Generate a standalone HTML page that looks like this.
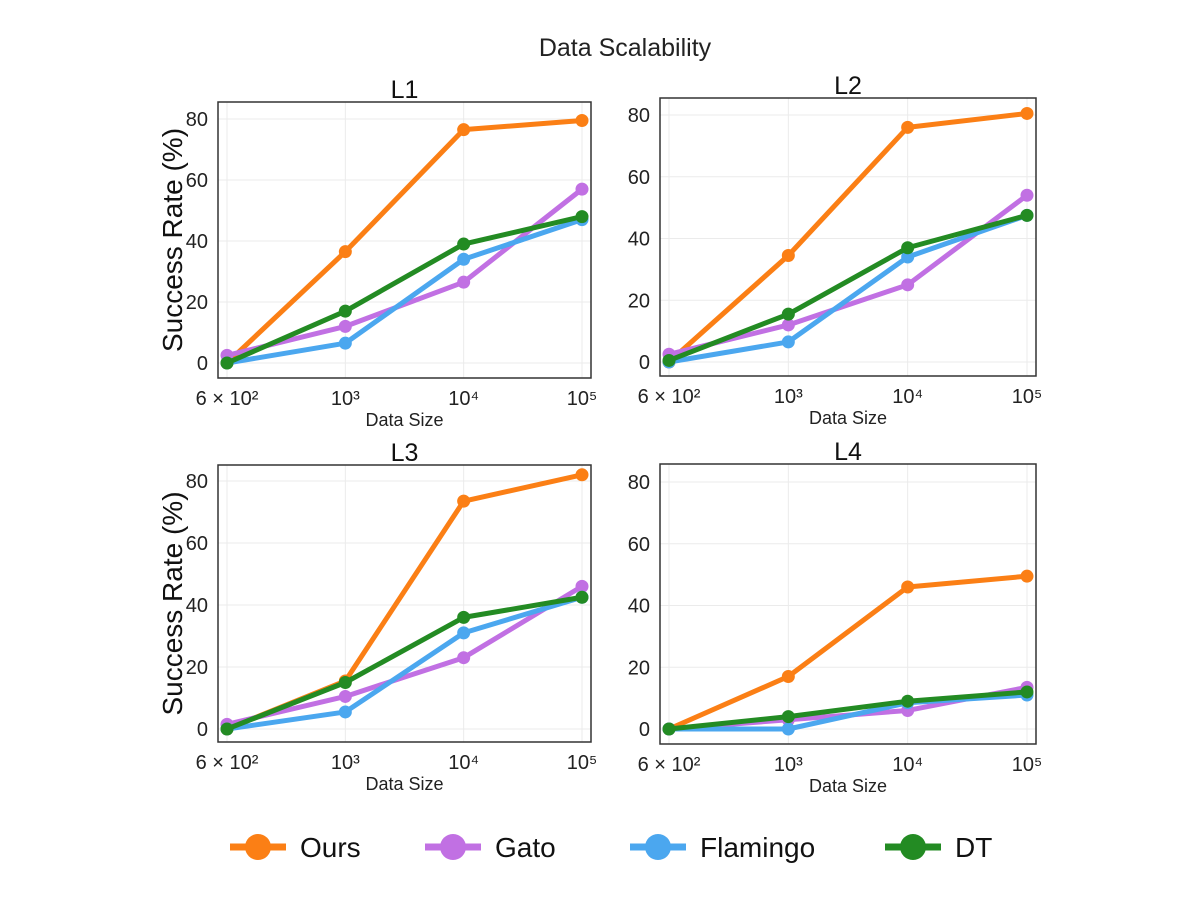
<!DOCTYPE html>
<html><head><meta charset="utf-8"><style>
body{margin:0;background:#fff}
svg{display:block;font-family:"Liberation Sans","DejaVu Sans",sans-serif}
</style></head><body>
<svg id="chart" width="1200" height="898" xmlns="http://www.w3.org/2000/svg">
<text x="625" y="56" text-anchor="middle" font-size="25" fill="#222">Data Scalability</text>
<g id="panels"></g>
<g id="legend"></g>
</svg>
<script>
const categories = ["6 × 10²", "10³", "10⁴", "10⁵"];
const yTicks = [0, 20, 40, 60, 80];
const seriesNames = ["Ours", "Gato", "Flamingo", "DT"];
const seriesColors = ["#fb7f15", "#c170e3", "#4ba7ef", "#238b23"];
const panelTitles = ["L1", "L2", "L3", "L4"];
const oursL1 = [0, 36.5, 76.5, 79.5];
const gatoL1 = [2.5, 12, 26.5, 57];
const flamingoL1 = [0, 6.5, 34, 47];
const dtL1 = [0, 17, 39, 48];
const oursL2 = [0, 34.5, 76, 80.5];
const gatoL2 = [2.5, 12, 25, 54];
const flamingoL2 = [0, 6.5, 34, 47.5];
const dtL2 = [0.5, 15.5, 37, 47.5];
const oursL3 = [0, 15.5, 73.5, 82];
const gatoL3 = [1.5, 10.5, 23, 46];
const flamingoL3 = [0, 5.5, 31, 42.5];
const dtL3 = [0, 15, 36, 42.5];
const oursL4 = [0, 17, 46, 49.5];
const gatoL4 = [0, 3, 6, 13.5];
const flamingoL4 = [0, 0, 8.5, 11];
const dtL4 = [0, 4, 9, 12];
const panelData = [
  [oursL1, gatoL1, flamingoL1, dtL1],
  [oursL2, gatoL2, flamingoL2, dtL2],
  [oursL3, gatoL3, flamingoL3, dtL3],
  [oursL4, gatoL4, flamingoL4, dtL4]
];
const layouts = [
  {bx0:218,bx1:591,by0:102,by1:378,x0:227,x1:582,yTop:119,yZero:363,ylab:true},
  {bx0:660,bx1:1036,by0:98,by1:376,x0:669,x1:1027,yTop:115,yZero:362,ylab:false},
  {bx0:218,bx1:591,by0:465,by1:742,x0:227,x1:582,yTop:481,yZero:729,ylab:true},
  {bx0:660,bx1:1036,by0:464,by1:744,x0:669,x1:1027,yTop:482,yZero:729,ylab:false}
];
const NS = "http://www.w3.org/2000/svg";
function mk(tag, attrs, parent){const e=document.createElementNS(NS,tag);for(const k in attrs)e.setAttribute(k,attrs[k]);parent.appendChild(e);return e;}
const root = document.getElementById("panels");
panelData.forEach((series, p) => {
  const L = layouts[p];
  const xs = i => L.x0 + (L.x1 - L.x0) * i / (categories.length - 1);
  const ys = v => L.yZero - (L.yZero - L.yTop) * v / 80;
  const g = mk("g", {}, root);
  
  
  yTicks.forEach(t => {
    const l = mk("line", {x1:L.bx0, x2:L.bx1, y1:ys(t), y2:ys(t), stroke:"#ebebeb", "stroke-width":1}, g);
    
    
    const tx = mk("text", {x:L.bx0-10, y:ys(t)+7, "text-anchor":"end", "font-size":20, fill:"#222"}, g);
    
    
    tx.textContent = t;
  });
  categories.forEach((c, i) => {
    const l = mk("line", {x1:xs(i), x2:xs(i), y1:L.by0, y2:L.by1, stroke:"#ebebeb", "stroke-width":1}, g);
    
    
    const tx = mk("text", {x:xs(i), y:L.by1+27, "text-anchor":"middle", "font-size":20, fill:"#222"}, g);
    
    
    tx.textContent = c;
  });
  const box = mk("rect", {x:L.bx0, y:L.by0, width:L.bx1-L.bx0, height:L.by1-L.by0, fill:"none", stroke:"#333", "stroke-width":1.5}, g);
  
  
  const tt = mk("text", {x:(L.bx0+L.bx1)/2, y:L.by0-4, "text-anchor":"middle", "font-size":25, fill:"#111"}, g);
  
  
  tt.textContent = panelTitles[p];
  const xl = mk("text", {x:(L.bx0+L.bx1)/2, y:L.by1+48, "text-anchor":"middle", "font-size":18, fill:"#222"}, g);
  
  
  xl.textContent = "Data Size";
  if (L.ylab) {
    const cy = (L.by0+L.by1)/2;
    const yl = mk("text", {x:182, y:cy, "text-anchor":"middle", "font-size":28, fill:"#111", transform:`rotate(-90 182 ${cy})`}, g);
    
    
    yl.textContent = "Success Rate (%)";
  }
  series.forEach((vals, s) => {
    const sg = mk("g", {}, g);
    
    
    const pts = vals.map((v, i) => xs(i) + "," + ys(v)).join(" ");
    const pl = mk("polyline", {points:pts, fill:"none", stroke:seriesColors[s], "stroke-width":5, "stroke-linejoin":"round"}, sg);
    
    
    vals.forEach((v, i) => {
      const c = mk("circle", {cx:xs(i), cy:ys(v), r:6.5, fill:seriesColors[s]}, sg);
      
      
    });
  });
});
const legend = document.getElementById("legend");
const legX = [230, 425, 630, 885];
seriesNames.forEach((n, s) => {
  const g = mk("g", {}, legend);
  
  
  mk("line", {x1:legX[s], x2:legX[s]+56, y1:847, y2:847, stroke:seriesColors[s], "stroke-width":7}, g);
  mk("circle", {cx:legX[s]+28, cy:847, r:13, fill:seriesColors[s]}, g);
  const t = mk("text", {x:legX[s]+70, y:857, "font-size":28, fill:"#111"}, g);
  
  
  t.textContent = n;
});
</script>
</body></html>
